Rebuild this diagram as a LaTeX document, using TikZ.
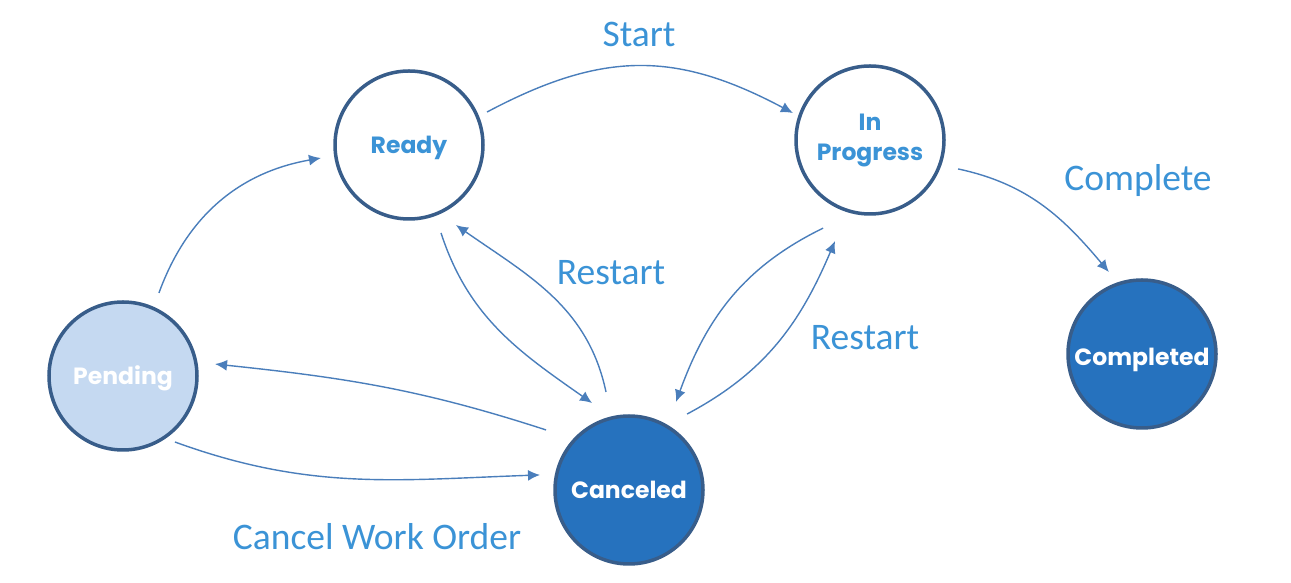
\documentclass[tikz,border=0pt]{standalone}
\usepackage{fontspec}
\setmainfont{Carlito}
\newfontfamily\nodefont{Poppins}
\usetikzlibrary{arrows.meta}
\definecolor{labelblue}{HTML}{3B93D6}
\definecolor{arrowblue}{HTML}{4A7EBB}
\definecolor{rimblue}{HTML}{385D8A}
\definecolor{darkfill}{HTML}{2672BE}
\definecolor{lightfill}{HTML}{C5D9F1}
\newcommand{\lowertext}[2]{\raisebox{-#1}[\height][\depth]{#2}}
\tikzset{
  state/.style={circle, draw=rimblue, line width=3.5pt, minimum size=148pt, inner sep=0pt,
    align=center, font=\nodefont\bfseries\fontsize{23.5}{30}\selectfont},
  openstate/.style={state, fill=white, text=labelblue},
  darkstate/.style={state, fill=darkfill, text=white},
  lightstate/.style={state, fill=lightfill, text=white},
  trans/.style={draw=arrowblue, line width=1.4pt, -{Latex[length=12pt,width=11pt]}},
  tlabel/.style={text=labelblue, font=\fontsize{37.5}{42}\selectfont, anchor=base, inner sep=0pt}
}
\begin{document}
\begin{tikzpicture}[x=1pt,y=1pt]
\useasboundingbox (0,0) rectangle (1291,583);
\node[openstate] (ready) at (409,438) {\lowertext{3pt}{Ready}};
\node[openstate] (prog) at (870,443) {In\\Progress};
\node[lightstate] (pend) at (123,207) {\lowertext{2pt}{Pending}};
\node[darkstate] (canc) at (629,93) {Canceled};
\node[darkstate] (done) at (1142,229) {\lowertext{6pt}{Completed}};

\draw[trans] ([shift={(66.6:90.5)}]pend.center) to[out=70,in=190] ([shift={(188.4:89)}]ready.center);
\draw[trans] ([shift={(22.9:84.7)}]ready.center) to[out=28,in=152,looseness=1.1] ([shift={(160.7:81.6)}]prog.center);
\draw[trans] ([shift={(-18.2:92.7)}]prog.center) to[out=-12,in=130] ([shift={(112:88.4)}]done.center);
\draw[trans] ([shift={(-70:93.6)}]ready.center) to[out=-72,in=145] ([shift={(113:94.5)}]canc.center);
\draw[trans] ([shift={(103.2:100.7)}]canc.center) to[out=102,in=-35] ([shift={(-59.6:92.8)}]ready.center);
\draw[trans] ([shift={(-118:99.8)}]prog.center) to[out=206,in=70] ([shift={(61.9:99.8)}]canc.center);
\draw[trans] ([shift={(52.6:95.6)}]canc.center) to[out=28,in=247] ([shift={(250.9:106.9)}]prog.center);
\draw[trans] ([shift={(144.1:102.4)}]canc.center) to[out=162,in=-6] ([shift={(7.4:92.8)}]pend.center);
\draw[trans] ([shift={(-51.8:84)}]pend.center) to[out=-20,in=182] ([shift={(170.4:90.3)}]canc.center);

\node[tlabel] (lstart) at (639,536) {Start};
\node[tlabel] (lcomplete) at (1138,392) {Complete};
\node[tlabel] (lrestart1) at (611,298) {Restart};
\node[tlabel] (lrestart2) at (865,233) {Restart};
\node[tlabel] (lcancel) at (377,33) {Cancel Work Order};
\end{tikzpicture}
\end{document}
